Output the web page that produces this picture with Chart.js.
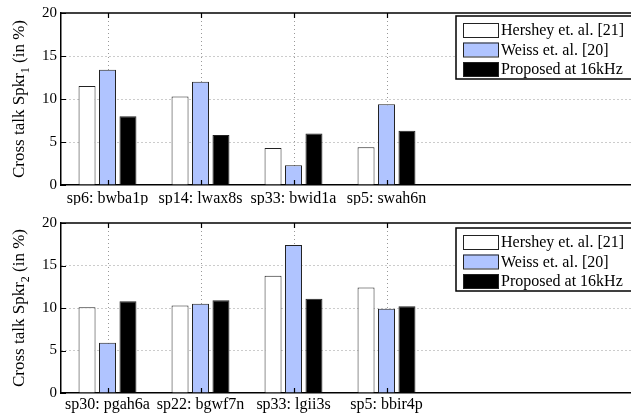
<!DOCTYPE html>
<html>
<head>
<meta charset="utf-8">
<script src="https://cdn.jsdelivr.net/npm/chart.js@4"></script>
<style>
  body { margin: 0; overflow: hidden; background: #fff; width: 631px; height: 419px; }
  canvas { display: block; }
</style>
</head>
<body>
<canvas id="topChart" width="720" height="205"></canvas>
<canvas id="bottomChart" width="720" height="214"></canvas>
<script>
const seriesNames = ['Hershey et. al. [21]', 'Weiss et. al. [20]', 'Proposed at 16kHz'];
const seriesColors = ['#ffffff', '#b0c4ff', '#000000'];

const topLabels = ['sp6: bwba1p', 'sp14: lwax8s', 'sp33: bwid1a', 'sp5: swah6n'];
const topHershey = [11.5, 10.3, 4.3, 4.4];
const topWeiss = [13.4, 12.0, 2.3, 9.4];
const topProposed = [8.0, 5.8, 6.0, 6.3];

const bottomLabels = ['sp30: pgah6a', 'sp22: bgwf7n', 'sp33: lgii3s', 'sp5: bbir4p'];
const bottomHershey = [10.1, 10.3, 13.8, 12.4];
const bottomWeiss = [5.9, 10.5, 17.4, 9.9];
const bottomProposed = [10.8, 10.9, 11.1, 10.2];

const yMin = 0, yMax = 20, yStep = 5;

const FONT = '"Liberation Serif", "Times New Roman", serif';
Chart.defaults.font.family = FONT;
Chart.defaults.color = '#000';

// dotted vertical grid at the real categories, box top, inward ticks, y title, legend
const framePlugin = {
  id: 'frame',
  beforeDatasetsDraw(chart, args, opts) {
    const { ctx, chartArea: a, scales: { x } } = chart;
    ctx.save();
    ctx.strokeStyle = '#999';
    ctx.lineWidth = 1;
    ctx.setLineDash([1, 3]);
    ctx.beginPath();
    for (let i = 0; i < opts.count; i++) {
      const px = Math.round(x.getPixelForTick(i)) + 0.5;
      ctx.moveTo(px, a.top); ctx.lineTo(px, a.bottom);
    }
    ctx.stroke();
    ctx.restore();
  },
  afterDraw(chart, args, opts) {
    const { ctx, chartArea: a, scales: { x, y } } = chart;
    ctx.save();
    ctx.strokeStyle = '#000';
    ctx.lineWidth = 1.5;
    ctx.beginPath();
    ctx.moveTo(a.left, a.top);
    ctx.lineTo(a.right, a.top);
    ctx.stroke();

    ctx.lineWidth = 1.2;
    ctx.beginPath();
    for (let i = 0; i < opts.count; i++) {
      const px = Math.round(x.getPixelForTick(i)) + 0.5;
      ctx.moveTo(px, a.top); ctx.lineTo(px, a.top + 5);
      ctx.moveTo(px, a.bottom); ctx.lineTo(px, a.bottom - 5);
    }
    y.ticks.forEach(t => {
      const py = Math.round(y.getPixelForValue(t.value)) + 0.5;
      ctx.moveTo(a.left, py); ctx.lineTo(a.left + 5, py);
    });
    ctx.stroke();

    // y axis title
    ctx.save();
    ctx.translate(20, (a.top + a.bottom) / 2);
    ctx.rotate(-Math.PI / 2);
    ctx.fillStyle = '#000';
    ctx.textBaseline = 'middle';
    const big = '17px ' + FONT, small = '12px ' + FONT;
    ctx.font = big;
    const p1 = 'Cross talk Spkr', p3 = ' (in %)';
    const w1 = ctx.measureText(p1).width, w3 = ctx.measureText(p3).width;
    ctx.font = small;
    const w2 = ctx.measureText(opts.sub).width;
    const sx = -(w1 + w2 + w3) / 2;
    ctx.font = big;
    ctx.fillText(p1, sx, 0);
    ctx.font = small;
    ctx.fillText(opts.sub, sx + w1, 6);
    ctx.font = big;
    ctx.fillText(p3, sx + w1 + w2, 0);
    ctx.restore();

    // legend (its right edge runs past the window, as in the cropped source)
    ctx.font = '16px ' + FONT;
    const ds = chart.data.datasets;
    const tw = Math.max(...ds.map(d => ctx.measureText(d.label).width));
    const lx = opts.legendX, ly = opts.legendY;
    const bw = 7 + 35 + 4 + tw + 16, bh = 63;
    ctx.fillStyle = '#fff';
    ctx.fillRect(lx, ly, bw, bh);
    ctx.strokeStyle = '#000';
    ctx.lineWidth = 1.5;
    ctx.strokeRect(lx, ly, bw, bh);
    ctx.lineWidth = 1;
    ctx.textBaseline = 'middle';
    ds.forEach((d, i) => {
      const sy = ly + 7 + i * 19.5;
      ctx.fillStyle = d.backgroundColor;
      ctx.fillRect(lx + 7, sy, 35, 14);
      ctx.strokeStyle = '#222';
      ctx.strokeRect(lx + 7.5, sy + 0.5, 35, 14);
      ctx.fillStyle = '#000';
      ctx.fillText(d.label, lx + 45, sy + 8);
    });
    ctx.restore();
  }
};

function makeChart(id, labels, values, sub, opt) {
  // extra empty slots push the right edge of the axes past the window, as in the source figure
  const padded = labels.concat(['', '', '']);
  const n = labels.length;
  return new Chart(document.getElementById(id), {
    type: 'bar',
    data: {
      labels: padded,
      datasets: seriesNames.map((name, i) => ({
        label: name,
        data: values[i],
        backgroundColor: seriesColors[i],
        borderColor: '#222',
        borderWidth: 1,
        borderSkipped: 'start',
        categoryPercentage: 0.66,
        barPercentage: 0.83
      }))
    },
    options: {
      responsive: false,
      animation: false,
      layout: { padding: { top: opt.top, right: 8, left: 0, bottom: 0 } },
      plugins: {
        legend: { display: false },
        tooltip: { enabled: false },
        frame: { count: n, sub: sub, legendX: 456, legendY: opt.legendY }
      },
      scales: {
        x: {
          afterFit: s => { s.height = opt.xh; },
          grid: { display: false, drawTicks: false },
          border: { display: true, color: '#000', width: 1.5 },
          ticks: { autoSkip: false, maxRotation: 0, padding: opt.tickPad, font: { size: 16 } }
        },
        y: {
          min: yMin,
          max: yMax,
          afterFit: s => { s.width = 61; },
          grid: {
            drawTicks: false,
            color: c => (c.tick && c.tick.value > yMin && c.tick.value < yMax) ? '#999' : 'rgba(0,0,0,0)'
          },
          border: { display: true, color: '#000', width: 1.5, dash: [1, 3] },
          ticks: { stepSize: yStep, padding: 4, font: { size: 15 } }
        }
      }
    },
    plugins: [framePlugin]
  });
}

makeChart('topChart', topLabels, [topHershey, topWeiss, topProposed], '1',
  { top: 13, xh: 20, tickPad: 4, legendY: 16 });
makeChart('bottomChart', bottomLabels, [bottomHershey, bottomWeiss, bottomProposed], '2',
  { top: 18, xh: 26, tickPad: 2, legendY: 23 });
</script>
</body>
</html>
